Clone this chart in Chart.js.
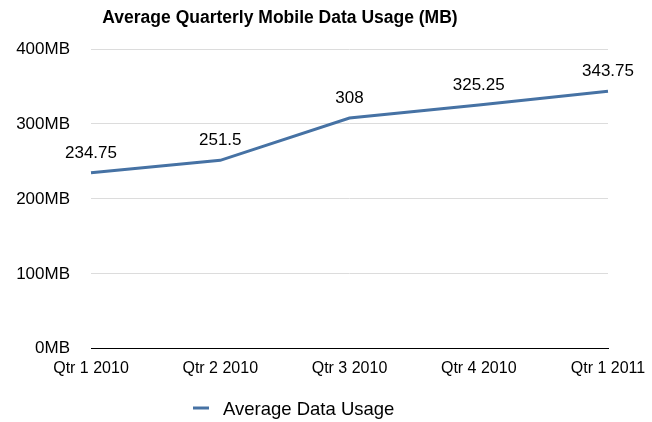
<!DOCTYPE html>
<html>
<head>
<meta charset="utf-8">
<script src="https://cdn.jsdelivr.net/npm/chart.js@4.4.1/dist/chart.umd.min.js"></script>
<style>
  html, body { margin: 0; padding: 0; background: #fff; }
  #wrap { width: 652px; height: 422px; position: relative; }
</style>
</head>
<body>
<div id="wrap"><canvas id="usageChart"></canvas></div>
<script>
// Chart data
const quarters = ['Qtr 1 2010', 'Qtr 2 2010', 'Qtr 3 2010', 'Qtr 4 2010', 'Qtr 1 2011'];
const avgUsage = [234.75, 251.5, 308, 325.25, 343.75];
const yTicks = [0, 100, 200, 300, 400];
const chartTitle = 'Average Quarterly Mobile Data Usage (MB)';
const seriesName = 'Average Data Usage';

const lineColor = '#4672a4';
const fontFamily = "'Liberation Sans', Arial, Helvetica, sans-serif";

// Value labels above each point
const valueLabels = {
    id: 'valueLabels',
    afterDatasetsDraw(chart) {
        const ctx = chart.ctx;
        const meta = chart.getDatasetMeta(0);
        ctx.save();
        ctx.font = '17px ' + fontFamily;
        ctx.fillStyle = '#000';
        ctx.textAlign = 'center';
        ctx.textBaseline = 'middle';
        meta.data.forEach((pt, i) => {
            ctx.fillText(String(avgUsage[i]), pt.x, pt.y - 20);
        });
        ctx.restore();
    }
};

// Title and legend are drawn at the same spots as the original (off-centre)
const titleAndLegend = {
    id: 'titleAndLegend',
    afterDraw(chart) {
        const ctx = chart.ctx;
        ctx.save();
        ctx.fillStyle = '#000';
        ctx.textBaseline = 'middle';
        ctx.textAlign = 'center';
        ctx.font = 'bold 17.5px ' + fontFamily;
        ctx.fillText(chartTitle, 280, 18);

        // legend
        ctx.strokeStyle = lineColor;
        ctx.lineWidth = 3;
        ctx.beginPath();
        ctx.moveTo(193, 408);
        ctx.lineTo(209, 408);
        ctx.stroke();
        ctx.textAlign = 'left';
        ctx.font = '18.5px ' + fontFamily;
        ctx.fillText(seriesName, 223, 410);
        ctx.restore();
    }
};

new Chart(document.getElementById('usageChart'), {
    type: 'line',
    data: {
        labels: quarters,
        datasets: [{
            label: seriesName,
            data: avgUsage,
            borderColor: lineColor,
            backgroundColor: lineColor,
            borderWidth: 3,
            pointRadius: 0,
            tension: 0,
            fill: false
        }]
    },
    options: {
        responsive: true,
        maintainAspectRatio: false,
        animation: false,
        layout: { padding: { top: 49, right: 44, bottom: 34, left: 0 } },
        plugins: {
            legend: { display: false },
            title: { display: false },
            tooltip: { enabled: false }
        },
        scales: {
            x: {
                offset: false,
                afterFit: (scale) => { scale.paddingRight = 0; scale.paddingLeft = 0; },
                grid: { display: false, drawTicks: false },
                border: { display: true, color: '#000', width: 1 },
                ticks: {
                    color: '#000',
                    font: { family: fontFamily, size: 16 },
                    padding: 10,
                    maxRotation: 0,
                    autoSkip: false
                }
            },
            y: {
                min: 0,
                max: 400,
                afterBuildTicks: (scale) => {
                    scale.ticks = yTicks.map(v => ({ value: v }));
                },
                afterFit: (scale) => { scale.width = 91; },
                grid: { color: '#dcdcdc', lineWidth: 1, drawTicks: false },
                border: { display: false },
                ticks: {
                    color: '#000',
                    font: { family: fontFamily, size: 17 },
                    padding: 21,
                    callback: (v) => v + 'MB'
                }
            }
        }
    },
    plugins: [valueLabels, titleAndLegend]
});
</script>
</body>
</html>
